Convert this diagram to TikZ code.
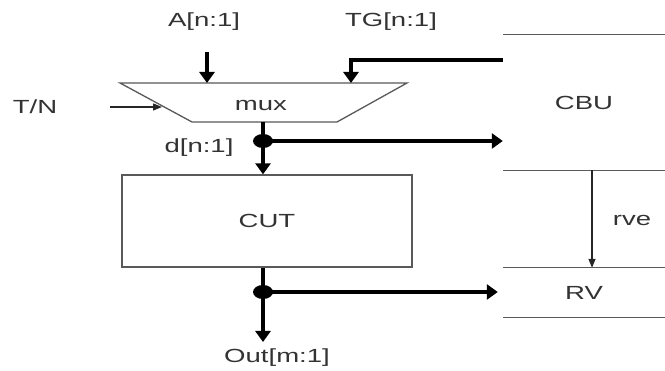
\documentclass[tikz,border=0pt]{standalone}
\usepackage{fontspec}
\setmainfont[FakeStretch=1.45]{Liberation Sans}
\usepackage{tikz}
\usetikzlibrary{arrows.meta,positioning}

\begin{document}
\begin{tikzpicture}[
    x=1pt,y=-1pt,
    font=\fontsize{19}{21}\selectfont,
    lbl/.style={text=black!80,inner sep=2pt},
    frame/.style={draw=black!65,line width=1.3pt},
    region/.style={inner sep=0pt,text=black!80},
    bus/.style={-{Triangle[length=11pt,width=15pt]},line width=4.5pt},
    busline/.style={line width=4.5pt},
    sig/.style={-{Triangle[length=9pt,width=7pt]},line width=1.3pt,draw=black!85}
  ]
    \useasboundingbox[fill=white] (0,0) rectangle (665,371);

    % multiplexer
    \draw[frame] (120,83) coordinate (muxtl) -- (407,83) coordinate (muxtr)
      -- (337,122) coordinate (muxbr) -- (192,122) coordinate (muxbl) -- cycle;
    \node[lbl] (mux) at (261,105) {mux};

    % circuit under test
    \node[frame,minimum width=290pt,minimum height=92pt,text=black!80] (cut) at (267,221) {CUT};

    % right hand blocks
    \node[region,minimum width=162pt,minimum height=135pt] (cbu) at (584,102.5) {CBU};
    \node[region,minimum width=162pt,minimum height=49pt] (rv) at (584,292.5) {RV};
    \draw[frame] (cbu.north west) -- (cbu.north east);
    \draw[frame] (cbu.south west) -- (cbu.south east);
    \draw[frame] (rv.north west) -- (rv.north east);
    \draw[frame] (rv.south west) -- (rv.south east);

    % labels
    \node[lbl] (a) at (204,22) {A[n:1]};
    \node[lbl] (tg) at (391,22) {TG[n:1]};
    \node[lbl] (tn) at (35,107) {T/N};
    \node[lbl] (d) at (199,148) {d[n:1]};
    \node[lbl] (rve) at (632,220) {rve};
    \node[lbl] (out) at (277,358) {Out[m:1]};

    \coordinate (ain) at (207,52);
    \coordinate (tgin) at (cbu.west |- 0,60);
    \coordinate (tgdn) at (351,83);
    \coordinate (tnin) at (110,107);
    \coordinate (tnend) at (162,107);
    \coordinate (dj) at (263,141);
    \coordinate (oj) at (263,292);
    \coordinate (oend) at (263,342);
    \coordinate (rvex) at (592,0);

    % connections
    \draw[bus] (ain) -- (ain |- muxtl);
    \draw[bus] (tgin) -| (tgdn);
    \draw[sig] (tnin) -- (tnend);
    \draw[busline] (dj |- muxbl) -- (dj);
    \draw[bus] (dj) -- (dj |- cut.north);
    \draw[bus] (dj) -- (dj -| cbu.west);
    \fill (dj) ellipse [x radius=10, y radius=7];
    \draw[busline] (oj |- cut.south) -- (oj);
    \draw[bus] (oj) -- (oend);
    \draw[bus,shorten >=5pt] (oj) -- (oj -| rv.west);
    \fill (oj) ellipse [x radius=10, y radius=7];
    \draw[sig] (rvex |- cbu.south) -- (rvex |- rv.north);
  \end{tikzpicture}
\end{document}
